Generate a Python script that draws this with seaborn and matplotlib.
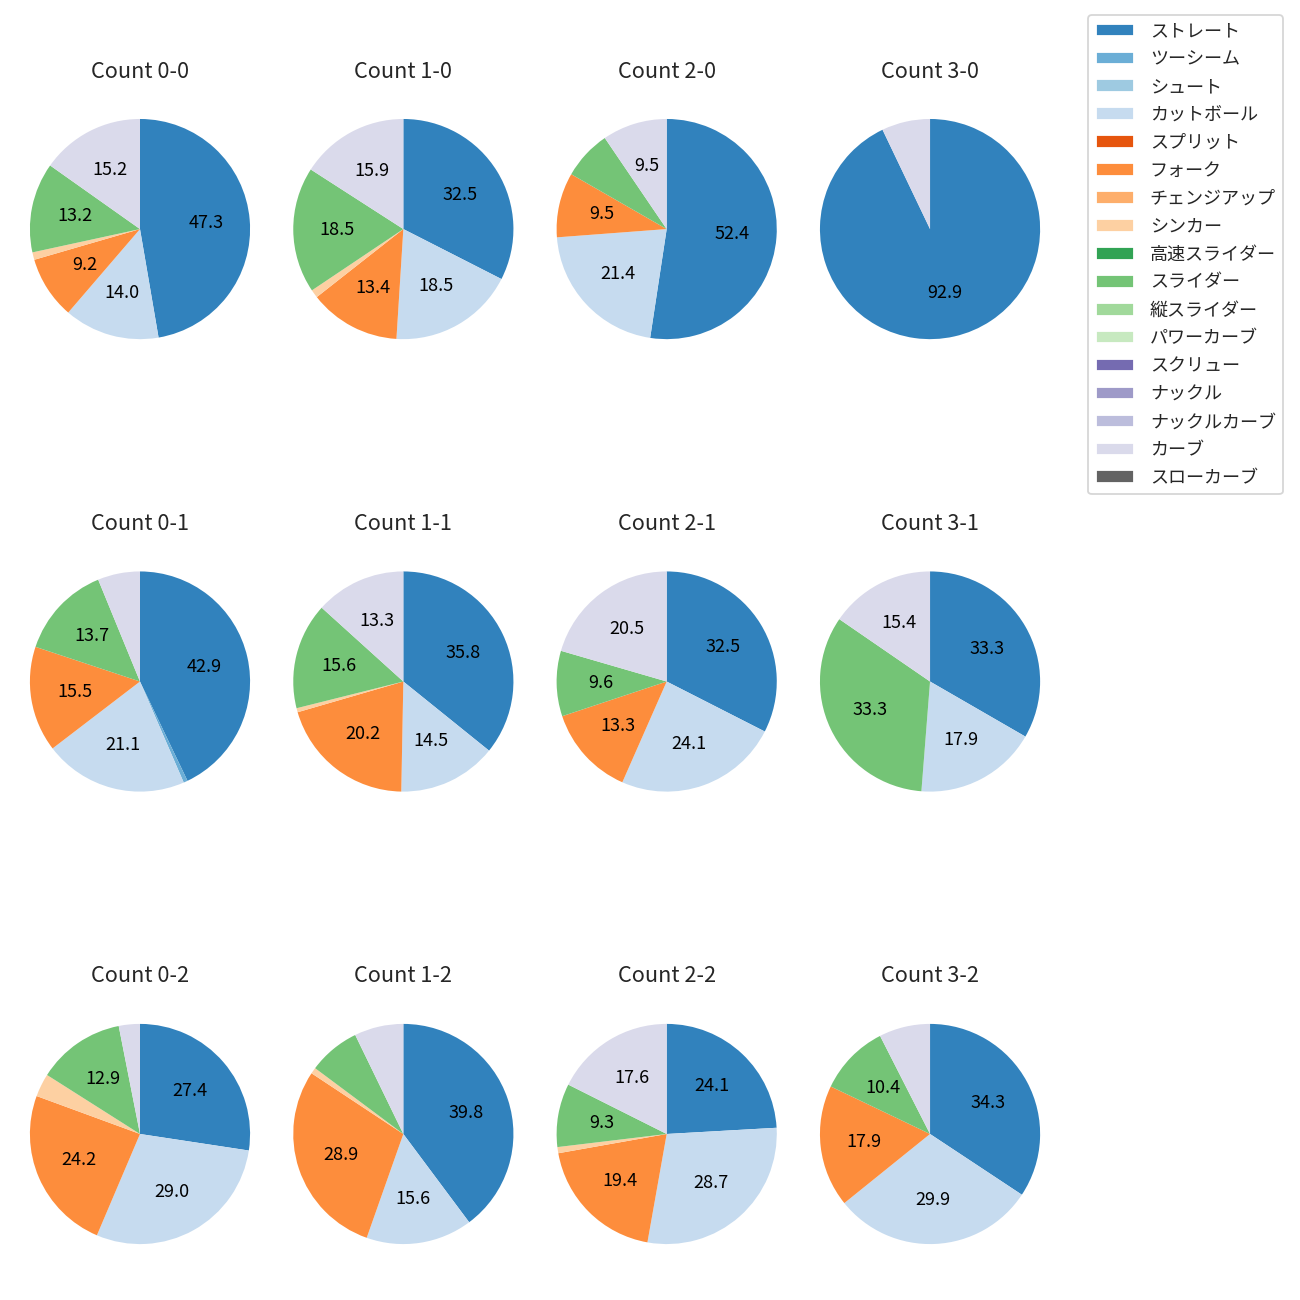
import matplotlib
matplotlib.use("Agg")
import matplotlib.pyplot as plt
import seaborn as sns
from matplotlib.patches import Patch

pitch_types = ["ストレート", "ツーシーム", "シュート", "カットボール", "スプリット", "フォーク",
               "チェンジアップ", "シンカー", "高速スライダー", "スライダー", "縦スライダー",
               "パワーカーブ", "スクリュー", "ナックル", "ナックルカーブ", "カーブ", "スローカーブ"]

count_titles = ["Count 0-0", "Count 1-0", "Count 2-0", "Count 3-0",
                "Count 0-1", "Count 1-1", "Count 2-1", "Count 3-1",
                "Count 0-2", "Count 1-2", "Count 2-2", "Count 3-2"]

# percentages per pitch type (order of pitch_types)
#          Str   2S   Sht  Cut  Spl  Frk  Chg  Snk  HSl  Sld  VSl PC Scr Knk KC  Crv  SC
c_0_0 = [47.3, 0,   0,  14.0, 0,  9.2,  0,  1.1, 0, 13.2, 0, 0, 0, 0, 0, 15.2, 0]
c_1_0 = [32.5, 0,   0,  18.5, 0, 13.4,  0,  1.2, 0, 18.5, 0, 0, 0, 0, 0, 15.9, 0]
c_2_0 = [52.4, 0,   0,  21.4, 0,  9.5,  0,  0,   0,  7.2, 0, 0, 0, 0, 0,  9.5, 0]
c_3_0 = [92.9, 0,   0,   0,   0,  0,    0,  0,   0,  0,   0, 0, 0, 0, 0,  7.1, 0]
c_0_1 = [42.9, 0.6, 0,  21.1, 0, 15.5,  0,  0,   0, 13.7, 0, 0, 0, 0, 0,  6.2, 0]
c_1_1 = [35.8, 0,   0,  14.5, 0, 20.2,  0,  0.6, 0, 15.6, 0, 0, 0, 0, 0, 13.3, 0]
c_2_1 = [32.5, 0,   0,  24.1, 0, 13.3,  0,  0,   0,  9.6, 0, 0, 0, 0, 0, 20.5, 0]
c_3_1 = [33.3, 0,   0,  17.9, 0,  0,    0,  0,   0, 33.3, 0, 0, 0, 0, 0, 15.4, 0]
c_0_2 = [27.4, 0,   0,  29.0, 0, 24.2,  0,  3.4, 0, 12.9, 0, 0, 0, 0, 0,  3.1, 0]
c_1_2 = [39.8, 0,   0,  15.6, 0, 28.9,  0,  0.9, 0,  7.6, 0, 0, 0, 0, 0,  7.2, 0]
c_2_2 = [24.1, 0,   0,  28.7, 0, 19.4,  0,  0.9, 0,  9.3, 0, 0, 0, 0, 0, 17.6, 0]
c_3_2 = [34.3, 0,   0,  29.9, 0, 17.9,  0,  0,   0, 10.4, 0, 0, 0, 0, 0,  7.5, 0]

count_values = [c_0_0, c_1_0, c_2_0, c_3_0,
                c_0_1, c_1_1, c_2_1, c_3_1,
                c_0_2, c_1_2, c_2_2, c_3_2]

sns.set_theme(style="white")
plt.rcParams["font.family"] = ["Noto Sans CJK JP", "DejaVu Sans"]

colors = sns.color_palette("tab20c", 20)[:len(pitch_types)]

fig, axes = plt.subplots(3, 4, figsize=(10, 10), dpi=130,
                         gridspec_kw=dict(left=0.0064, right=0.8167, top=0.9392,
                                          bottom=0.0123, wspace=0.0, hspace=0.508))


def fmt(p):
    return f"{p:.1f}" if p >= 8 else ""


for ax, title, vals in zip(axes.flat, count_titles, count_values):
    v = [x for x in vals if x > 0]
    c = [col for x, col in zip(vals, colors) if x > 0]
    ax.pie(v, colors=c, startangle=90, counterclock=False, autopct=fmt,
           pctdistance=0.6, radius=1.045, wedgeprops=dict(linewidth=0),
           textprops=dict(fontsize=10, color="black"))
    ax.set_aspect("equal")
    ax.set_title(title, fontsize=12, pad=11)

handles = [Patch(facecolor=col, label=name) for name, col in zip(pitch_types, colors)]
fig.legend(handles=handles, loc="upper right", bbox_to_anchor=(1283 / 1300, 1 - 15 / 1300),
           borderaxespad=0, fontsize=10, handlelength=2.1, labelspacing=0.55,
           handletextpad=0.9, frameon=True, edgecolor="#cccccc")

fig.savefig("out.png", dpi=130)
